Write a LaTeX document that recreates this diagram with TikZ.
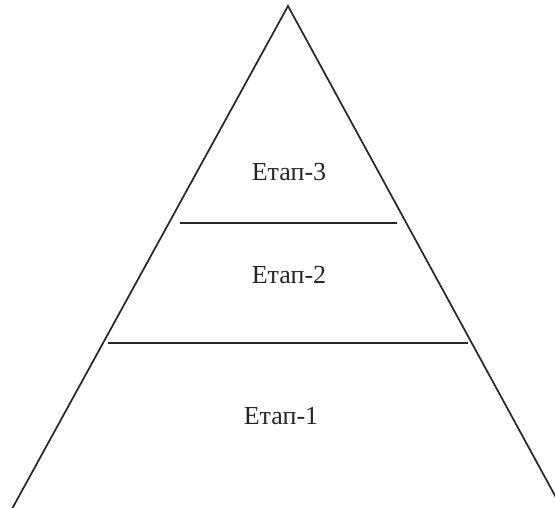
\documentclass[tikz,border=0pt]{standalone}
\usepackage{fontspec}
\setmainfont{Liberation Serif}
\begin{document}
\begin{tikzpicture}[x=1pt,y=-1pt,
  edge/.style={line width=1.7pt, draw=black!85},
  lbl/.style={font=\fontsize{26}{30}\selectfont, text=black!85, inner sep=0pt}]
\useasboundingbox (0,0) rectangle (555,508);
\coordinate (apex) at (288,6);
\coordinate (bl) at (12.5,508);
\coordinate (br) at (559,503);
\draw[edge] (bl) -- (apex) -- (br);
\coordinate (a1) at (180,223);
\coordinate (a2) at (397,223);
\coordinate (b1) at (108,343);
\coordinate (b2) at (468,343);
\draw[edge] (a1) -- (a2);
\draw[edge] (b1) -- (b2);
\node[lbl] (e3) at (289,172) {Етап-3};
\node[lbl] (e2) at (289,275) {Етап-2};
\node[lbl] (e1) at (281,416) {Етап-1};
\end{tikzpicture}
\end{document}
